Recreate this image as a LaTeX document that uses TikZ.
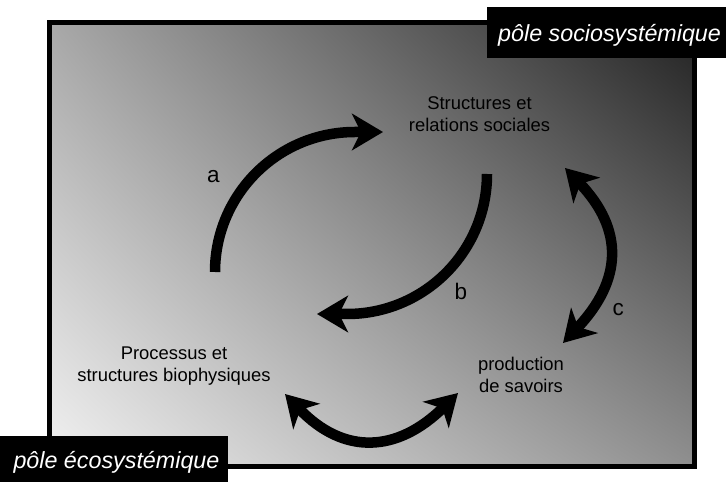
\documentclass[tikz,border=0pt]{standalone}
\usepackage{fontspec}
\setmainfont{Liberation Sans}
\usetikzlibrary{arrows.meta,shadings}
\tikzset{
  conn/.style={line width=10.5pt, black},
  txt/.style={inner sep=0pt, align=center, anchor=base, font=\fontsize{18.4}{22.7}\selectfont},
  lbl/.style={inner sep=0pt, anchor=base, font=\fontsize{22.5}{26}\selectfont},
  pole/.style={inner sep=0pt, anchor=base west, text=white, font=\fontsize{23.3}{27}\selectfont\itshape},
}
\begin{document}
\begin{tikzpicture}[x=1pt,y=1pt]
\useasboundingbox (0,0) rectangle (726,482);
% background frame with diagonal gradient
\shade[lower left=black!5, upper left=black!34, lower right=black!44, upper right=black!87]
  (49.5,15.5) rectangle (694.5,459.5);
\draw[line width=5pt] (49.5,15.5) rectangle (694.5,459.5);
% pole label boxes
\fill[black] (487,424) rectangle (726,475.3);
\node[pole] (psocio) at (498,440) {pôle sociosystémique};
\fill[black] (0,0) rectangle (228.3,45.7);
\node[pole] (peco) at (13.3,13.3) {pôle écosystémique};
% main texts (base anchor = last line baseline)
\node[txt] (soc) at (479.5,350) {Structures et\\relations sociales};
\node[txt] (bio) at (174,100) {Processus et\\structures biophysiques};
\node[txt] (sav) at (521,89) {production\\de savoirs};
% connector coordinates
\coordinate (a0) at (215,210);
\coordinate (a1) at (383,350);
\coordinate (b0) at (487,308);
\coordinate (b1) at (317,168);
\coordinate (cT) at (565,314);
\coordinate (cB) at (563,139);
\coordinate (cc1) at (624.7,252.1);
\coordinate (cc2) at (622.2,201.4);
\coordinate (dL) at (285,88);
\coordinate (dR) at (458,89);
\coordinate (dc1) at (343.9,26.5);
\coordinate (dc2) at (397.4,29.2);
% arrows
\draw[conn,-{Stealth[length=31pt,width=36.5pt,inset=9pt]}] (a0) arc[start angle=180,end angle=90,radius=140] -- (a1);
\draw[conn,-{Stealth[length=31pt,width=36.5pt,inset=9pt]}] (b0) arc[start angle=0,end angle=-90,radius=140] -- (b1);
\draw[conn,{Stealth[length=31pt,width=36.5pt,inset=9pt]}-{Stealth[length=31pt,width=36.5pt,inset=9pt]}] (cT) .. controls (cc1) and (cc2) .. (cB);
\draw[conn,{Stealth[length=31pt,width=36.5pt,inset=9pt]}-{Stealth[length=31pt,width=36.5pt,inset=9pt]}] (dL) .. controls (dc1) and (dc2) .. (dR);
% labels
\node[lbl] (la) at (213.3,299) {a};
\node[lbl] (lb) at (461,182) {b};
\node[lbl] (lc) at (618.3,166) {c};
\end{tikzpicture}
\end{document}
